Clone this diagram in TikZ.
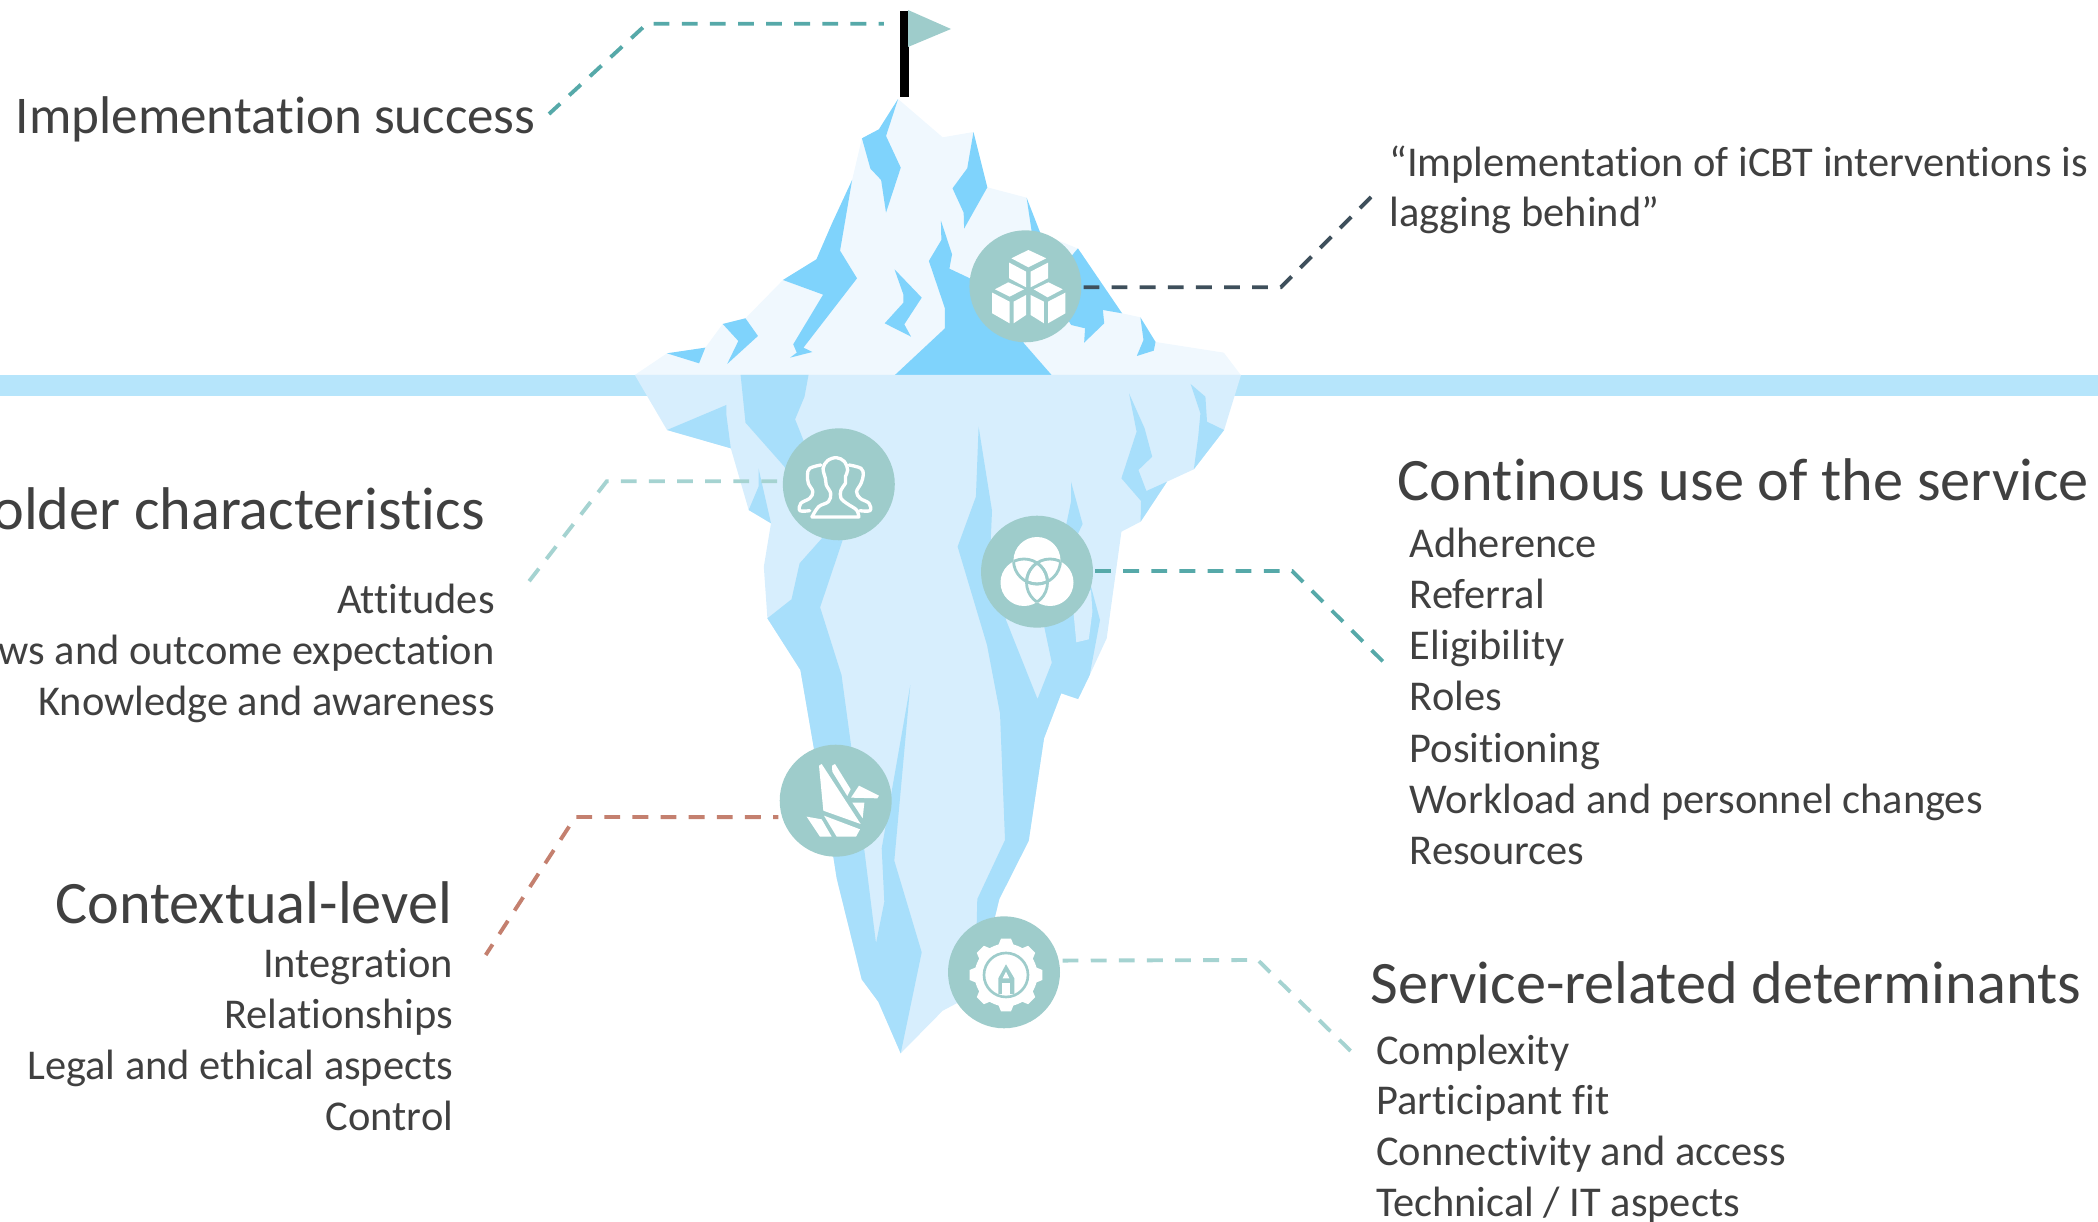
\documentclass[tikz,border=0pt]{standalone}
\usepackage{fontspec}
\setmainfont{Carlito}[Ligatures=NoCommon]
\definecolor{txt}{HTML}{404040}
\definecolor{water}{HTML}{B6E5FB}
\definecolor{tipl}{HTML}{F0F8FE}
\definecolor{tipd}{HTML}{7FD3FC}
\definecolor{bodyl}{HTML}{D7EEFD}
\definecolor{bodyd}{HTML}{A8DFFB}
\definecolor{iconc}{HTML}{9ECCCB}
\definecolor{cteal}{HTML}{56A9A9}
\definecolor{clight}{HTML}{A5D3D1}
\definecolor{cdark}{HTML}{3E4F5B}
\definecolor{cbrown}{HTML}{C4806F}
\tikzset{
  lbl/.style={inner sep=0pt,text=txt,yshift=-0.03cm,font=\fontsize{24.15}{29}\selectfont},
  lblw/.style={lbl,anchor=base west},
  lble/.style={lbl,anchor=base east},
  hd/.style={font=\fontsize{34.3}{40}\selectfont},
  conn/.style={line width=2.2pt,dash pattern=on 9pt off 7pt},
  icon/.style={circle,fill=iconc,minimum size=2.24cm,inner sep=0pt},
  zA/.style={shift={(600,0)},x=0.0089286cm,y=-0.0066667cm},
  zB/.style={shift={(600,370)},x=0.0089286cm,y=-0.0066667cm},
  zC/.style={shift={(740,700)},x=0.0066667cm,y=-0.0066667cm}
}
\begin{document}
\begin{tikzpicture}[x=0.02cm,y=-0.02cm]
\useasboundingbox (0,0) rectangle (2098,1222);
% water
\fill[water] (0,375) rectangle (2098,396);
% pole & flag
\node[fill=black,minimum width=0.18cm,minimum height=1.72cm,inner sep=0pt] (pole) at (904.5,54) {};
\fill[iconc] (908,10) -- (951,29) -- (908,47) -- cycle;
% iceberg tip
\begin{scope}[zA]
\fill[tipl] (78,1125)--(150,1060)--(236,1043)--(275,972)--(326,955)--(410,840)--(485,778)--(520,670)--(565,540)--(587,415)--(625,388)--(668,297)--(768,412)--(837,396)--(868,562)--(956,593)--(968,690)--(1070,745)--(1170,940)--(1211,952)--(1245,1026)--(1398,1058)--(1436,1125)--cycle;
\fill[tipd] (150,1060)--(236,1043)--(222,1090)--cycle;
\fill[tipd] (275,972)--(326,955)--(354,1008)--(285,1092)--(310,1023)--cycle;
\fill[tipd] (410,840)--(485,778)--(520,670)--(565,540)--(538,752)--(576,835)--(456,1043)--(476,1056)--(426,1073)--(441,1058)--(433,1033)--(500,884)--cycle;
\fill[tipd] (587,415)--(625,388)--(668,297)--(641,408)--(674,503)--(641,638)--(630,540)--(606,506)--cycle;
\fill[tipd] (837,396)--(868,562)--(816,686)--(815,638)--(790,565)--(823,505)--cycle;
\fill[tipd] (660,808)--(721,893)--(682,973)--(697,1010)--(638,970)--(680,908)--(680,884)--cycle;
\fill[tipd] (764,662)--(789,763)--(783,806)--(900,880)--(950,1030)--(1012,1125)--(661,1125)--(773,985)--(773,925)--(737,783)--(765,720)--cycle;
\fill[tipd] (956,593)--(990,710)--(968,700)--cycle;
\fill[tipd] (1071,745)--(1170,940)--(1127,930)--(1130,970)--(1085,1028)--(1087,985)--(1056,975)--(1000,860)--cycle;
\fill[tipd] (1211,952)--(1245,1026)--(1241,1052)--(1203,1068)--(1218,1020)--cycle;
\end{scope}
% underwater body
\fill[bodyl] (634.8,375)--(667,430)--(730.8,448.3)--(748.7,510)--(771,523.3)--(763.8,566.7)--(767.4,618.3)--(800.4,670)--(813.3,745)--(833.3,856.7)--(836.7,878.3)--(861.7,979.3)--(878.3,1001.7)--(900.7,1053.3)--(942.7,1010.7)--(956.7,1003.3)--(995,916.7)--(999.3,899)--(1028.7,840.7)--(1044,738.3)--(1061.2,693.3)--(1078.1,699)--(1089.7,675)--(1106.7,638.3)--(1121.4,531.7)--(1140.6,521.7)--(1167,481.7)--(1193.8,469.3)--(1224.1,430)--(1241,375)--cycle;
\fill[bodyd] (667,430)--(726.3,405)--(726.3,414.3)--(730.8,448.3)--cycle;
\fill[bodyd] (740.6,375)--(745.5,422.7)--(784.4,466.7)--(821.9,538.3)--(799.6,563.3)--(791.5,599.3)--(767.4,618.3)--(800.4,670)--(813.3,745)--(833.3,856.7)--(836.7,878.3)--(861.7,979.3)--(878.3,1001.7)--(900.7,1053.3)--(921.7,952.3)--(894.3,860.7)--(910.3,685)--(881.7,848.3)--(884.3,901.7)--(876,943.3)--(864.3,850)--(851,745)--(841.5,675)--(820.1,607.3)--(843.3,538.3)--(804,441.7)--(795.1,419.3)--(804.5,396.7)--(808.5,375)--cycle;
\fill[bodyd] (758.5,468.3)--(758.5,486.7)--(748.7,510)--(771,523.3)--cycle;
\fill[bodyd] (978.6,426.7)--(992,510.7)--(990.6,543)--(1006,620)--(1037.5,699)--(1051.8,662.7)--(1044.2,626.7)--(1066.5,523.3)--(1071,501.7)--(1071,481.7)--(1082.6,524)--(1075,540)--(1091,586.7)--(1100,620)--(1089.7,675)--(1078.1,699)--(1061.2,693.3)--(1044,738.3)--(1028.7,840.7)--(999.3,899)--(995,916.7)--(976.7,923.3)--(977.3,899)--(1005,840)--(1000,713.3)--(987,645)--(957.6,546.7)--(975.9,496.7)--cycle;
\fill[bodyl] (1091,590)--(1092.4,611.7)--(1088.8,639.3)--(1076.3,642.3)--(1072.3,600)--cycle;
\fill[bodyd] (1129,393.3)--(1144.6,428.3)--(1152.2,456.7)--(1138.4,470)--(1146.4,491)--(1167,481.7)--(1140.6,521.7)--(1141,501)--(1121.4,478.3)--(1136.6,431.7)--cycle;
\fill[bodyd] (1190.6,384)--(1205.4,396.7)--(1207,421.7)--(1224.1,430)--(1193.8,469.3)--(1198.2,436.7)--(1200.4,413.3)--cycle;
% icon discs
\node[icon] (cube) at (1025.4,286.3) {};
\node[icon] (people) at (838.8,484.3) {};
\node[icon] (venn) at (1037,571.7) {};
\node[icon] (origami) at (835.7,800.7) {};
\node[icon] (gear) at (1004,972.3) {};
% cube icon
\begin{scope}[zA]
\fill[white] (922,775)--(960,750)--(1000,775)--(960,802)--cycle;
\fill[white] (917,788)--(955,815)--(955,862)--(917,835)--cycle;
\fill[white] (965,815)--(1004,788)--(1004,835)--(965,862)--cycle;
\fill[white] (885,868)--(915,847)--(950,868)--(918,890)--cycle;
\fill[white] (879,878)--(918,905)--(918,970)--(879,940)--cycle;
\fill[white] (927,905)--(955,885)--(955,945)--(927,970)--cycle;
\fill[white] (972,868)--(1005,847)--(1037,868)--(1003,892)--cycle;
\fill[white] (965,885)--(995,905)--(995,970)--(965,945)--cycle;
\fill[white] (1004,905)--(1043,878)--(1043,940)--(1004,970)--cycle;
\end{scope}
% people icon
\begin{scope}[zB,white,line width=1.9pt,line join=round,line cap=round]
\draw plot[smooth,tension=0.6] coordinates {(475,441)(490,410)(512,395)(517,370)(507,345)(505,325)(500,295)(510,272)(530,263)(548,275)(555,300)(550,320)(550,340)(540,360)(540,385)(555,402)(575,420)(580,441)} -- cycle;
\draw plot[smooth,tension=0.6] coordinates {(470,422)(448,422)(450,400)(470,385)(477,365)(467,340)(465,315)(470,295)(495,285)};
\draw plot[smooth,tension=0.6] coordinates {(582,422)(605,422)(603,400)(583,385)(575,365)(585,340)(590,315)(585,295)(558,285)};
\end{scope}
% venn icon
\coordinate (va) at (1037,560.5);
\coordinate (vb) at (1024,582.5);
\coordinate (vc) at (1050,582.5);
\fill[white] (va) circle (23.5) (vb) circle (23.5);
\fill[white] (vc) circle (23.5);
\foreach \p/\q in {va/vb,va/vc,vb/va,vb/vc,vc/va,vc/vb}{
  \begin{scope}
  \clip (\q) circle (23.5);
  \draw[iconc,line width=1.6pt] (\p) circle (23.5);
  \end{scope}
}
% origami icon
\begin{scope}[zC,white]
\fill (237,197)--(245,192)--(362,372)--(250,332)--cycle;
\fill (276,197)--(285,192)--(332,268)--(322,288)--(277,215)--cycle;
\fill (333,293)--(357,257)--(417,287)--(412,295)--cycle;
\fill (337,308)--(373,308)--(368,355)--cycle;
\fill (252,347)--(360,388)--(348,410)--(290,410)--cycle;
\fill (200,350)--(245,358)--(275,410)--(240,410)--cycle;
% gear icon
\fill (798,825) circle (94*0.0066667cm);
\foreach \a in {0,45,...,315}
  \fill[rotate around={\a:(798,825)}] (771,745)--(825,745)--(813,716)--(783,716)--cycle;
\draw[iconc,line width=1.5pt] (798,825) circle (66*0.0066667cm);
\fill[iconc] (775,882)--(775,835)--(798,793)--(823,835)--(823,882)--cycle;
\fill (798,815)--(808,835)--(788,835)--cycle;
\fill (787,850) rectangle (810,882);
\end{scope}
% bends and free ends
\coordinate (b1) at (647,23.7);   \coordinate (e1) at (549,114);
\coordinate (b2) at (1280.8,287.3); \coordinate (e2) at (1371,197);
\coordinate (b3) at (606.7,481.3); \coordinate (e3) at (528.5,582);
\coordinate (b4) at (1292,571);   \coordinate (e4) at (1383.5,662);
\coordinate (b5) at (575.3,817);  \coordinate (e5) at (485.7,955);
\coordinate (b6) at (1257.7,960); \coordinate (e6) at (1351.4,1051.7);
% connectors
\draw[conn,cteal,dash phase=6pt,shorten <=9pt] (b1 -| pole.west) -- (b1) -- (e1);
\draw[conn,cdark,shorten <=1pt] (cube.east |- b2) -- (b2) -- (e2);
\draw[conn,clight,shorten <=3pt] (people.west |- b3) -- (b3) -- (e3);
\draw[conn,cteal,shorten <=1pt] (venn.east |- b4) -- (b4) -- (e4);
\draw[conn,cbrown,dash phase=6pt,shorten <=2pt] (origami.197) -- (b5) -- (e5);
\draw[conn,clight,shorten <=2pt] (gear.12) -- (b6) -- (e6);
% labels
\node[lblw,font=\fontsize{30.2}{36}\selectfont] (success) at (15.5,131.7) {Implementation success};
\node[lblw] (quote1) at (1389,175) {“Implementation of iCBT interventions is};
\node[lblw] (quote2) at (1389,225) {lagging behind”};
\node[lble,hd] (stake) at (485,528.3) {older characteristics};
\node[lble] (s1) at (495,611.7) {Attitudes};
\node[lble] (s2) at (495,662.7) {ws and outcome expectation};
\node[lble] (s3) at (495,714.3) {Knowledge and awareness};
\node[lble,hd] (context) at (452.5,922.3) {Contextual-level};
\node[lble] (c1) at (453.5,975.7) {Integration};
\node[lble] (c2) at (453.5,1026.7) {Relationships};
\node[lble] (c3) at (453.5,1077.7) {Legal and ethical aspects};
\node[lble] (c4) at (453.5,1129.3) {Control};
\node[lblw,hd] (cont) at (1397.5,499.3) {Continous use of the service};
\node[lblw] (a1) at (1409.5,556) {Adherence};
\node[lblw] (a2) at (1409.5,607.3) {Referral};
\node[lblw] (a3) at (1409.5,658.3) {Eligibility};
\node[lblw] (a4) at (1409.5,709.3) {Roles};
\node[lblw] (a5) at (1409.5,760.7) {Positioning};
\node[lblw] (a6) at (1409.5,811.7) {Workload and personnel changes};
\node[lblw] (a7) at (1409.5,863.3) {Resources};
\node[lblw,hd] (serv) at (1370,1002.3) {Service-related determinants};
\node[lblw] (d1) at (1376,1062.7) {Complexity};
\node[lblw] (d2) at (1376,1113.3) {Participant fit};
\node[lblw] (d3) at (1376,1164.3) {Connectivity and access};
\node[lblw] (d4) at (1376,1215) {Technical / IT aspects};
\end{tikzpicture}
\end{document}
